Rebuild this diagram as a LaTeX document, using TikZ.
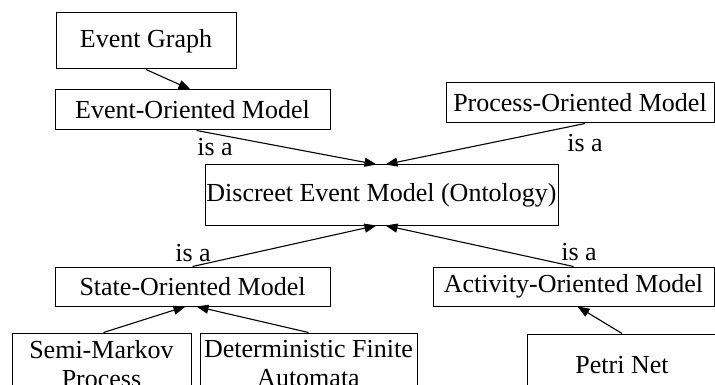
\documentclass[tikz,border=0pt]{standalone}
\usepackage{fontspec}
\setmainfont{Liberation Serif}
\usetikzlibrary{arrows.meta}
\begin{document}
\begin{tikzpicture}[x=1pt,y=-1pt,
  box/.style={draw, line width=1pt, inner sep=0pt, font=\fontsize{26}{29}\selectfont, align=center},
  arr/.style={draw, line width=1.1pt, -{Triangle[length=12pt,width=9pt]}},
  lbl/.style={font=\fontsize{26}{30}\selectfont, inner sep=0pt}]
\useasboundingbox (0,0) rectangle (715,385);
\clip (0,0) rectangle (715,385);
\node[box, minimum width=180pt, minimum height=56pt] (eg) at (146,41) {Event Graph};
\node[box, minimum width=275pt, minimum height=40pt] (eom) at (192.5,110) {Event-Oriented Model};
\node[box, minimum width=268pt, minimum height=40pt] (pom) at (580,103) {Process-Oriented Model};
\node[box, minimum width=353pt, minimum height=60pt] (dem) at (381.5,195) {Discreet Event Model (Ontology)};
\node[box, minimum width=275pt, minimum height=39pt] (som) at (192.5,286.5) {State-Oriented Model};
\node[box, minimum width=281pt, minimum height=39pt] (aom) at (573.5,286.5) {Activity-Oriented Model};
\node[box, minimum width=179pt, minimum height=62pt] (smp) at (101.5,364) {Semi-Markov\\Process};
\node[box, minimum width=217pt, minimum height=62pt] (dfa) at (308.5,364) {Deterministic Finite\\Automata};
\node[box, minimum width=190pt, minimum height=62pt] (pn) at (622,365) {Petri Net};
\node[lbl] (l1) at (215,147) {is a};
\node[lbl] (l2) at (585,143) {is a};
\node[lbl] (l3) at (193,253) {is a};
\node[lbl] (l4) at (579,252) {is a};
\draw[arr] (eg.south) -- ([xshift=-2pt]eom.north);
\draw[arr] ([xshift=4pt]eom.south) -- ([xshift=-5pt]dem.north);
\draw[arr] ([xshift=5pt]pom.south) -- ([xshift=4pt]dem.north);
\draw[arr] (som.north) -- ([xshift=-5pt]dem.south);
\draw[arr] (aom.north) -- ([xshift=4pt]dem.south);
\draw[arr] ([xshift=2pt]smp.north) -- ([xshift=-7pt]som.south);
\draw[arr] (dfa.north) -- ([xshift=4pt]som.south);
\draw[arr] (pn.north) -- ([xshift=4pt]aom.south);
\end{tikzpicture}
\end{document}
